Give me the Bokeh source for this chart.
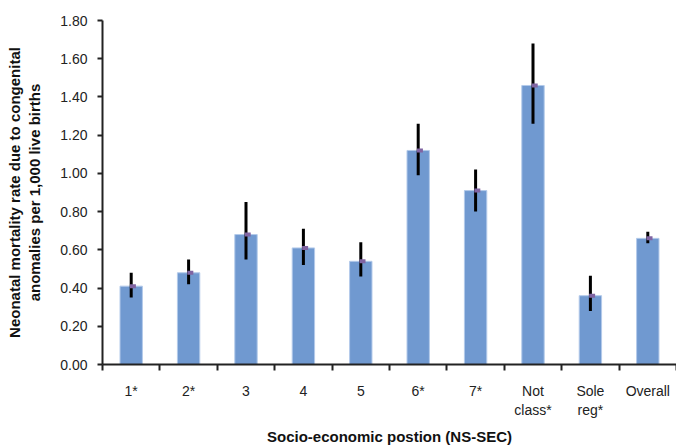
from bokeh.plotting import figure
from bokeh.models import Range1d, FixedTicker, NumeralTickFormatter, ColumnDataSource
from bokeh.embed import file_html
from bokeh.resources import INLINE

categories = ["1*", "2*", "3", "4", "5", "6*", "7*", "Not\nclass*", "Sole\nreg*", "Overall"]
rate = [0.41, 0.48, 0.68, 0.61, 0.54, 1.12, 0.91, 1.46, 0.36, 0.66]
lower = [0.35, 0.42, 0.55, 0.52, 0.46, 0.99, 0.80, 1.26, 0.28, 0.635]
upper = [0.48, 0.55, 0.85, 0.71, 0.64, 1.26, 1.02, 1.68, 0.465, 0.695]
y_ticks = [0.0, 0.2, 0.4, 0.6, 0.8, 1.0, 1.2, 1.4, 1.6, 1.8]

xc = [i + 0.5 for i in range(len(categories))]
src = ColumnDataSource(dict(x=xc, xm=[v + 0.03 for v in xc], rate=rate, lower=lower, upper=upper))

FONT = "Liberation Sans"

p = figure(width=676, height=447, output_backend="svg", toolbar_location=None,
           x_range=Range1d(0, len(categories)), y_range=Range1d(0, 1.8),
           min_border_left=102, min_border_right=0, min_border_top=20, min_border_bottom=0)
p.outline_line_color = None
p.xgrid.visible = False
p.ygrid.visible = False

p.vbar(x="x", top="rate", width=0.39, bottom=0, source=src,
       fill_color="#7099D0", line_color="#B3CAEA", line_width=1)
p.segment(x0="x", x1="x", y0="lower", y1="upper", source=src,
          line_color="black", line_width=3)
p.rect(x="xm", y="rate", width=6, height=4, width_units="screen", height_units="screen",
       source=src, fill_color="#8064A2", line_color=None)

# y axis
ya = p.yaxis[0]
ya.ticker = FixedTicker(ticks=y_ticks, minor_ticks=[])
ya.formatter = NumeralTickFormatter(format="0.00")
ya.axis_line_color = "#222222"
ya.axis_line_alpha = 1.0
ya.axis_line_width = 2
ya.major_tick_line_color = "#222222"
ya.major_tick_line_width = 2
ya.major_tick_out = 5
ya.major_tick_in = 0
ya.major_label_standoff = 10
ya.major_label_text_font = FONT
ya.major_label_text_font_size = "14px"
ya.major_label_text_color = "#222222"
ya.axis_label = "Neonatal mortality rate due to congenital\nanomalies per 1,000 live births"
ya.axis_label_text_font = FONT
ya.axis_label_text_font_style = "bold"
ya.axis_label_text_font_size = "15px"
ya.axis_label_text_color = "#111111"
ya.axis_label_standoff = 14

# x axis
xa = p.xaxis[0]
xa.ticker = FixedTicker(ticks=xc, minor_ticks=list(range(len(categories) + 1)))
xa.major_label_overrides = {x: c for x, c in zip(xc, categories)}
xa.axis_line_color = "#222222"
xa.axis_line_alpha = 1.0
xa.axis_line_width = 2
xa.major_tick_line_color = None
xa.major_tick_out = 0
xa.major_tick_in = 0
xa.minor_tick_line_color = "#222222"
xa.minor_tick_line_width = 2
xa.minor_tick_out = 6
xa.minor_tick_in = 0
xa.major_label_standoff = 12
xa.major_label_text_font = FONT
xa.major_label_text_font_size = "14px"
xa.major_label_text_color = "#222222"
xa.axis_label = "Socio-economic postion (NS-SEC)"
xa.axis_label_text_font = FONT
xa.axis_label_text_font_style = "bold"
xa.axis_label_text_font_size = "15px"
xa.axis_label_text_color = "#111111"
xa.axis_label_standoff = 7

open("out.html", "w").write(file_html(p, INLINE))
